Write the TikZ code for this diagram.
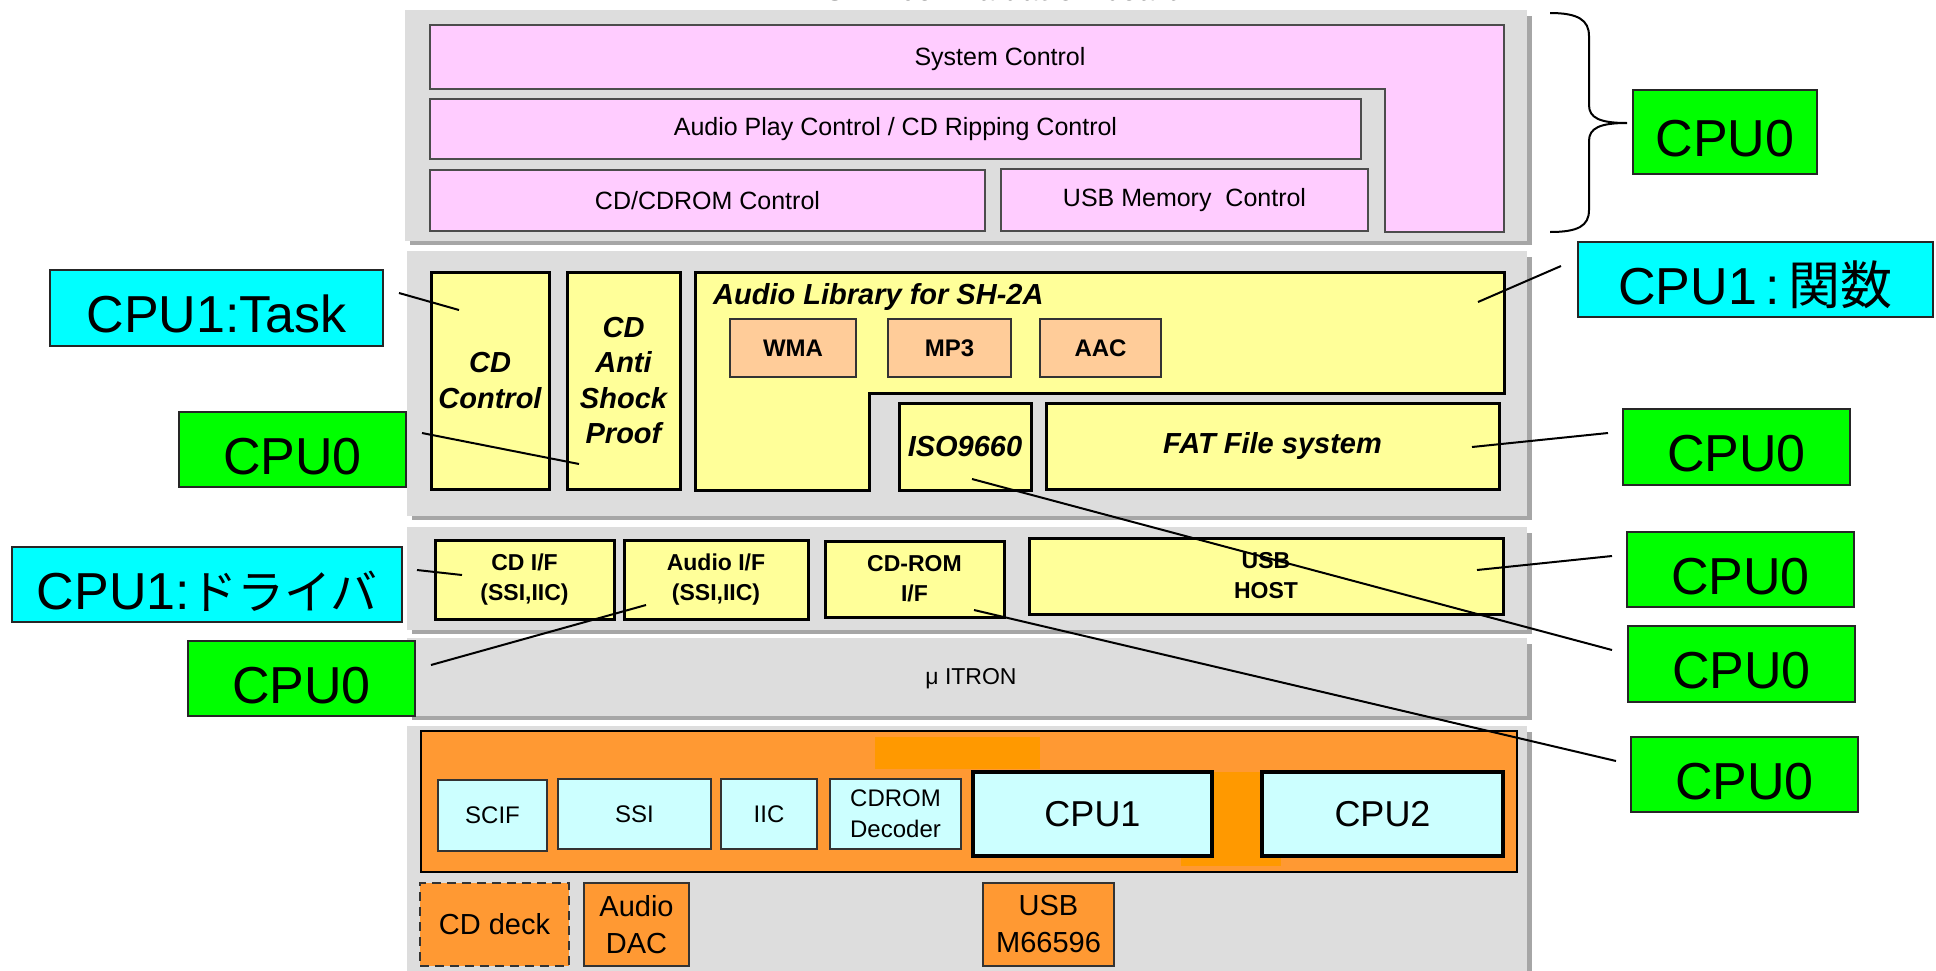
\documentclass[tikz,border=0pt]{standalone}
\usepackage{fontspec}
\setmainfont{Liberation Sans}
\newfontfamily\jp{Noto Sans CJK JP}

\definecolor{panelgrey}{HTML}{DDDDDD}
\definecolor{shadowgrey}{HTML}{A6A6A6}
\definecolor{pinkfill}{HTML}{FFCCFF}
\definecolor{yellowfill}{HTML}{FFFF99}
\definecolor{salmon}{HTML}{FFCC99}
\definecolor{icecyan}{HTML}{CCFFFF}
\definecolor{orangefill}{HTML}{FF9933}
\definecolor{deeporange}{HTML}{FF9900}
\definecolor{labelcyan}{HTML}{00FFFF}
\definecolor{labelgreen}{HTML}{00FF00}

\newcommand\fs[2]{\fontsize{#1}{#2}\selectfont}
% box by corners: name, x1, y1, x2, y2, style, text
\newcommand\blk[7]{%
  \node[#6, anchor=north west, inner sep=0pt, outer sep=0pt,
        minimum width={(#4-#2)*1pt}, minimum height={(#5-#3)*1pt}]
        (#1) at (#2,#3) {#7};}
% grey layer with its shadow
\newcommand\layer[5]{%
  \fill[shadowgrey] (#2+5,#3+6) rectangle (#4+5,#5+4);
  \blk{#1}{#2}{#3}{#4}{#5}{fill=panelgrey}{}}

\tikzset{
  pinkbox/.style={fill=pinkfill, draw=black!70, line width=2pt, font=\fs{25}{30}},
  yellowbox/.style={fill=yellowfill, draw=black, line width=3pt},
  swbig/.style={font=\bfseries\itshape\fs{29}{35.5}, align=center},
  drv/.style={font=\bfseries\fs{23}{30}, align=center},
  codec/.style={fill=salmon, draw=black!80, line width=1.5pt, font=\bfseries\fs{24}{29}},
  periph/.style={fill=icecyan, draw=black!80, line width=1.5pt, font=\fs{24}{31}, align=center},
  cpubox/.style={fill=icecyan, draw=black, line width=3.5pt, font=\fs{36}{42}},
  chip/.style={fill=orangefill, draw=black!80, line width=1.5pt, font=\fs{29}{37}, align=center},
  socbox/.style={fill=orangefill, draw=black, line width=2.5pt},
  biglabel/.style={draw=black!85, line width=2pt, font=\fs{52}{60}, text height=49pt, text depth=0pt},
  greenlabel/.style={biglabel, fill=labelgreen},
  cyanlabel/.style={biglabel, fill=labelcyan},
  leader/.style={draw=black, line width=2pt},
}

\begin{document}
\begin{tikzpicture}[x=1pt, y=-1pt]
\clip (0,0) rectangle (1936,970);
\fill[white] (0,0) rectangle (1936,970);

% ---------- layers ----------
\layer{appLayer}{405}{10}{1527}{241}
\layer{mwLayer}{407}{251}{1527}{516}
\layer{drvLayer}{407}{527}{1527}{630}
\layer{osLayer}{407}{638}{1527}{716}
\layer{hwLayer}{407}{726}{1527}{985}

\node[font=\bfseries\fs{30}{36}, anchor=base] (board) at (1005,0) {SH7205 Evaluation board};

% ---------- application ----------
\draw[pinkbox] (430,25) -- (1504,25) -- (1504,232) -- (1385,232) -- (1385,89) -- (430,89) -- cycle;
\node[font=\fs{25}{30}] (sysctl) at (1000,59) {System Control};
\blk{play}{430}{99}{1361}{159}{pinkbox}{Audio Play Control / CD Ripping Control}
\blk{cdromctl}{430}{170}{985}{231}{pinkbox}{CD/CDROM Control}
\blk{usbmem}{1001}{169}{1368}{231}{pinkbox}{USB Memory\ \ Control}

% ---------- middleware ----------
\blk{cdctl}{431}{272}{549}{489}{yellowbox,swbig}{CD\\Control}
\blk{antishock}{567}{272}{680}{489}{yellowbox,swbig}{CD\\Anti\\Shock\\Proof}
\draw[yellowbox] (695,272) -- (1504,272) -- (1504,393) -- (869,393) -- (869,490) -- (695,490) -- cycle;
\node[swbig, anchor=base west, inner sep=0pt] (audiolib) at (713,304) {Audio Library for SH-2A};
\blk{wma}{730}{319}{856}{377}{codec}{WMA}
\blk{mp3}{888}{319}{1011}{377}{codec}{MP3}
\blk{aac}{1040}{319}{1161}{377}{codec}{AAC}
\blk{iso}{899}{403}{1031}{490}{yellowbox,swbig}{ISO9660}
\blk{fat}{1046}{403}{1499}{489}{yellowbox,swbig}{FAT File system}

% ---------- drivers ----------
\blk{cdif}{435}{540}{614}{619}{yellowbox,drv}{CD I/F\\(SSI,IIC)}
\blk{audioif}{624}{540}{808}{619}{yellowbox,drv}{Audio I/F\\(SSI,IIC)}
\blk{cdromif}{825}{541}{1004}{617}{yellowbox,drv}{CD-ROM\\I/F}
\blk{usbhost}{1029}{538}{1503}{614}{yellowbox,drv}{USB\\HOST}

% ---------- OS ----------
\node[font=\fs{23}{28}] (itron) at (971,679) {μ ITRON};

% ---------- hardware ----------
\blk{soc}{421}{731}{1517}{872}{socbox}{}
\fill[deeporange] (875,737) rectangle (1040,769);
\fill[deeporange] (1181,772) rectangle (1281,866);
\blk{scif}{438}{780}{547}{851}{periph}{SCIF}
\blk{ssi}{558}{779}{711}{849}{periph}{SSI}
\blk{iic}{721}{779}{817}{849}{periph}{IIC}
\blk{decoder}{830}{779}{961}{849}{periph}{CDROM\\Decoder}
\blk{cpu1}{973}{772}{1212}{856}{cpubox}{CPU1}
\blk{cpu2}{1262}{772}{1503}{856}{cpubox}{CPU2}
\blk{cddeck}{420}{883}{569}{966}{chip,dash pattern=on 9pt off 6pt}{CD deck}
\blk{dac}{584}{883}{689}{966}{chip}{Audio\\DAC}
\blk{usbchip}{983}{883}{1114}{966}{chip}{USB\\M66596}

% ---------- CPU assignment labels ----------
\blk{lTask}{50}{270}{383}{346}{cyanlabel}{CPU1:Task}
\blk{lCpuA}{179}{412}{406}{487}{greenlabel}{CPU0}
\blk{lDrv}{12}{547}{402}{622}{cyanlabel}{CPU1:{\jp\fs{47}{60}ドライバ}}
\blk{lCpuB}{188}{641}{415}{716}{greenlabel}{CPU0}
\blk{rTop}{1633}{90}{1817}{174}{greenlabel}{CPU0}
\blk{rFunc}{1578}{242}{1933}{317}{cyanlabel}{CPU1\,:\,{\jp 関数}}
\blk{rFat}{1623}{409}{1850}{485}{greenlabel}{CPU0}
\blk{rUsb}{1627}{532}{1854}{607}{greenlabel}{CPU0}
\blk{rIso}{1628}{626}{1855}{702}{greenlabel}{CPU0}
\blk{rRom}{1631}{737}{1858}{812}{greenlabel}{CPU0}

% brace grouping the application layer
\draw[line width=2pt] (1550,13) .. controls (1578,13) and (1589,20) .. (1589,36)
  -- (1589,105) .. controls (1589,118) and (1600,123) .. (1627,123)
  .. controls (1600,123) and (1589,128) .. (1589,141)
  -- (1589,210) .. controls (1589,226) and (1578,232) .. (1550,232);

% leader lines
\coordinate (a1) at (399,293);  \coordinate (b1) at (459,310);
\coordinate (a2) at (422,433);  \coordinate (b2) at (579,464);
\coordinate (a3) at (417,570);  \coordinate (b3) at (462,575);
\coordinate (a4) at (431,665);  \coordinate (b4) at (646,605);
\coordinate (a5) at (1561,266); \coordinate (b5) at (1478,302);
\coordinate (a6) at (1608,433); \coordinate (b6) at (1472,447);
\coordinate (a7) at (1612,556); \coordinate (b7) at (1477,570);
\coordinate (a8) at (1612,650); \coordinate (b8) at (972,479);
\coordinate (a9) at (1616,761); \coordinate (b9) at (974,610);
\foreach \i in {1,...,9} { \draw[leader] (a\i) -- (b\i); }
\end{tikzpicture}
\end{document}
